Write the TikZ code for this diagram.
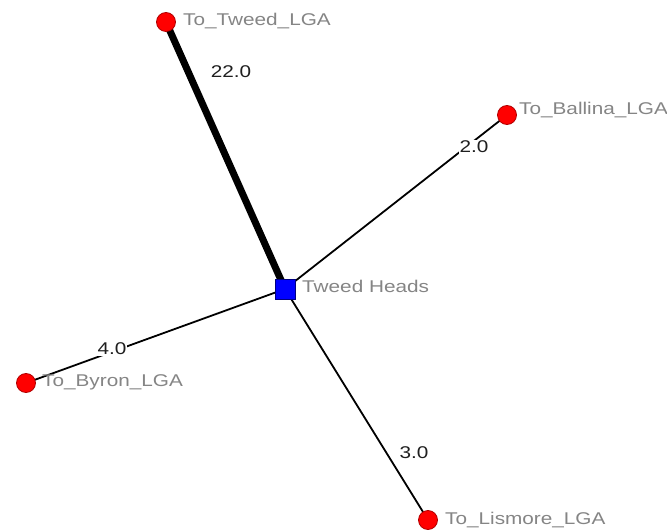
\documentclass[tikz,border=0pt]{standalone}
\usepackage{fontspec}
\setmainfont{Liberation Sans}
\newfontfamily\labfont[FakeStretch=1.22]{Liberation Sans}
\usetikzlibrary{backgrounds}
\tikzset{
  lga/.style={circle,draw=red!70!black,line width=0.8pt,fill=red,minimum size=19pt,inner sep=0pt},
  hubsq/.style={rectangle,draw=blue!50!black,line width=0.8pt,fill=blue,minimum size=20pt,inner sep=0pt},
  nlabel/.style={anchor=base west,inner sep=0pt,text=black!48,font=\labfont\fontsize{17}{17}\selectfont},
  elabel/.style={inner sep=1pt,text=black!88,font=\labfont\fontsize{17}{17}\selectfont},
  wlabel/.style={elabel,fill=white},
  thinedge/.style={draw=black,line width=1.8pt},
  thickedge/.style={draw=black,line width=7pt}
}
\begin{document}
\begin{tikzpicture}[x=1pt,y=-1pt]
\useasboundingbox (0,0) rectangle (667,532);
\node[hubsq] (hub) at (285,289) {};
\node[lga] (tweed) at (166,22) {};
\node[lga] (ballina) at (507,115) {};
\node[lga] (byron) at (26,383) {};
\node[lga] (lismore) at (428,520) {};
\begin{scope}[on background layer]
\fill[white] (0,0) rectangle (667,532);
\draw[thickedge] (hub.center) -- (tweed.center);
\draw[thinedge] (hub.center) -- (ballina.center);
\draw[thinedge] (hub.center) -- (byron.center);
\draw[thinedge] (hub.center) -- (lismore.center);
\end{scope}
\node[nlabel] (lhub) at (302,292) {Tweed Heads};
\node[nlabel] (ltweed) at (183,26) {To\_Tweed\_LGA};
\node[nlabel] (lballina) at (519,115) {To\_Ballina\_LGA};
\node[nlabel] (lbyron) at (42,386) {To\_Byron\_LGA};
\node[nlabel] (llismore) at (445,524) {To\_Lismore\_LGA};
\node[elabel] (e1) at (231,72) {22.0};
\node[wlabel] (e2) at (474,147) {2.0};
\node[wlabel] (e3) at (112,349) {4.0};
\node[elabel] (e4) at (414,453) {3.0};
\end{tikzpicture}
\end{document}
